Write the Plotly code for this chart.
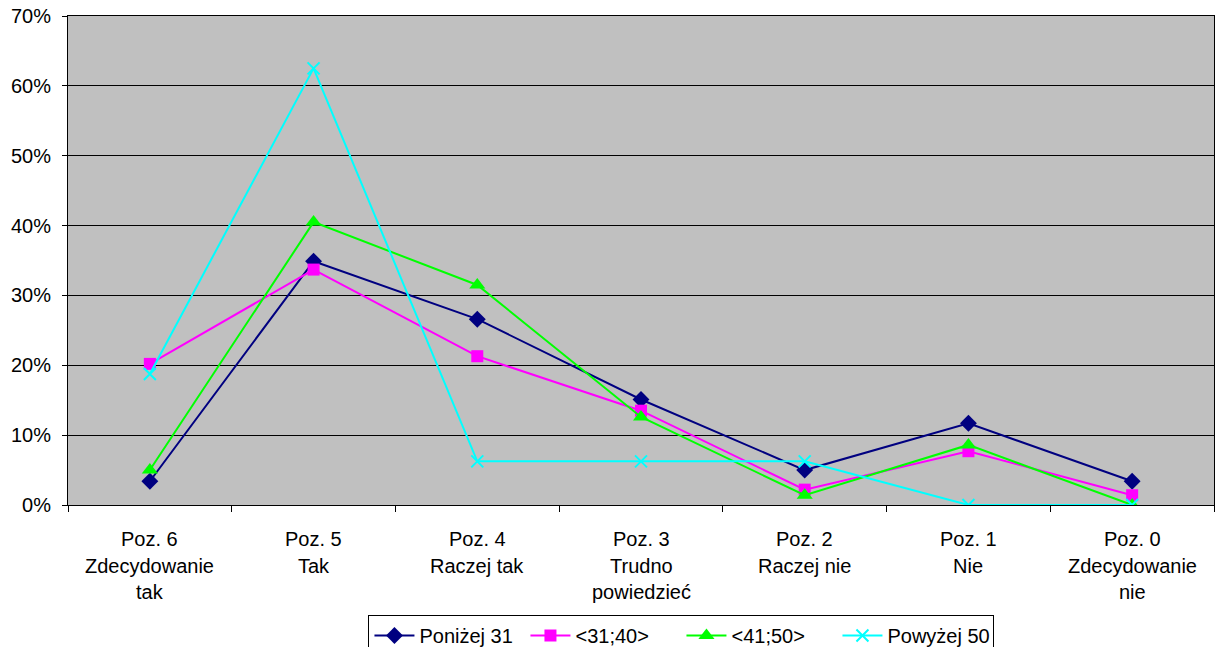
import plotly.graph_objects as go

categories = [
    "Poz. 6<br>Zdecydowanie<br>tak",
    "Poz. 5<br>Tak",
    "Poz. 4<br>Raczej tak",
    "Poz. 3<br>Trudno<br>powiedzieć",
    "Poz. 2<br>Raczej nie",
    "Poz. 1<br>Nie",
    "Poz. 0<br>Zdecydowanie<br>nie",
]

ponizej_31 = [0.034, 0.349, 0.266, 0.151, 0.050, 0.117, 0.034]
od_31_do_40 = [0.202, 0.337, 0.213, 0.135, 0.022, 0.077, 0.014]
od_41_do_50 = [0.050, 0.405, 0.315, 0.126, 0.014, 0.086, 0.000]
powyzej_50 = [0.1875, 0.625, 0.0625, 0.0625, 0.0625, 0.000, 0.000]

y_ticks = [0, 0.1, 0.2, 0.3, 0.4, 0.5, 0.6, 0.7]

series = [
    ("Poniżej 31", ponizej_31, "#000080", "diamond", 13),
    ("<31;40>", od_31_do_40, "#FF00FF", "square", 12),
    ("<41;50>", od_41_do_50, "#00FF00", "triangle-up", 14),
    ("Powyżej 50", powyzej_50, "#00FFFF", "x-thin", 12),
]

FAMILY = "Liberation Sans, Arial, sans-serif"
font = dict(family=FAMILY, size=20, color="black")

fig = go.Figure()
for name, vals, color, symbol, size in series:
    marker = dict(symbol=symbol, size=size, color=color)
    if symbol == "x-thin":
        marker["line"] = dict(color=color, width=2)
    fig.add_trace(go.Scatter(
        x=categories, y=vals, name=name, mode="lines+markers",
        line=dict(color=color, width=2), marker=marker,
    ))

# category labels, one annotation per line
LINE_GAP = 26.5
for cat in categories:
    for i, part in enumerate(cat.split("<br>")):
        fig.add_annotation(
            x=cat, xref="x", y=0, yref="paper", text=part,
            showarrow=False, yanchor="middle", xanchor="center",
            yshift=-(34 + i * LINE_GAP), font=font,
        )

fig.update_layout(
    width=1218, height=647,
    margin=dict(l=68, r=4, t=16, b=142, autoexpand=False),
    paper_bgcolor="white",
    plot_bgcolor="#C0C0C0",
    font=font,
    showlegend=True,
    legend=dict(
        orientation="h", x=0.5353, xanchor="center", y=-0.225, yanchor="top",
        bordercolor="black", borderwidth=1, bgcolor="white",
        font=dict(family=FAMILY, size=20, color="black"),
        entrywidth=101, entrywidthmode="pixels", itemwidth=40,
        tracegroupgap=0,
    ),
)

fig.update_xaxes(
    type="category", tickson="boundaries", ticks="outside", ticklen=6,
    tickcolor="black", showgrid=False, showline=True, linecolor="black",
    linewidth=1, mirror=True, showticklabels=False, range=[-0.5, 6.5],
    automargin=False,
)
fig.update_yaxes(
    range=[0, 0.7], tickvals=y_ticks, tickformat=".0%", ticks="outside",
    ticklen=5, tickcolor="black", showgrid=True, gridcolor="black",
    gridwidth=1, showline=True, linecolor="black", linewidth=1, mirror=True,
    zeroline=False, tickfont=font, ticklabelstandoff=7, automargin=False,
)

fig.write_html("out.html")
